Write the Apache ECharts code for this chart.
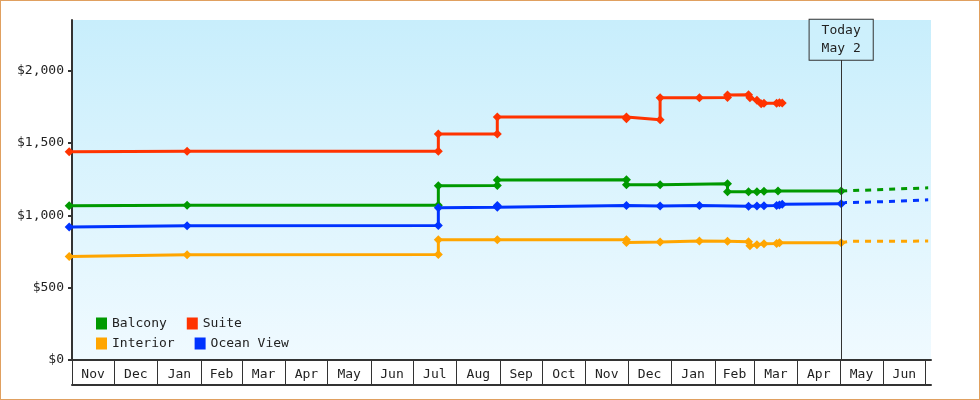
<!DOCTYPE html>
<html><head><meta charset="utf-8">
<script src="https://cdn.jsdelivr.net/npm/echarts@6/dist/echarts.min.js"></script>
<style>html,body{margin:0;padding:0;background:#fff}#c{width:978px;height:398px;border:1px solid #e0a060}</style>
</head><body><div id="c"></div>
<script>
const monthNames = ['Nov','Dec','Jan','Feb','Mar','Apr','May','Jun','Jul','Aug','Sep','Oct','Nov','Dec','Jan','Feb','Mar','Apr','May','Jun'];
const monthStarts = ['2023-11-01','2023-12-01','2024-01-01','2024-02-01','2024-03-01','2024-04-01','2024-05-01','2024-06-01','2024-07-01','2024-08-01','2024-09-01','2024-10-01','2024-11-01','2024-12-01','2025-01-01','2025-02-01','2025-03-01','2025-04-01','2025-05-01','2025-06-01','2025-07-01'];
const yTicks = [0,500,1000,1500,2000];
const today = '2025-05-02';
const projEnd = '2025-07-03';

const suite = [['2023-10-30',1440],['2024-01-22',1442],['2024-07-19',1442],['2024-07-19',1562],['2024-08-30',1562],['2024-08-30',1680],['2024-11-30',1680],['2024-11-30',1668],['2024-12-24',1660],['2024-12-24',1812],['2025-01-21',1812],['2025-02-10',1815],['2025-02-10',1832],['2025-02-25',1834],['2025-02-26',1812],['2025-03-03',1795],['2025-03-06',1772],['2025-03-08',1775],['2025-03-17',1775],['2025-03-19',1778],['2025-03-21',1776]];
const balcony = [['2023-10-30',1066],['2024-01-22',1070],['2024-07-19',1070],['2024-07-19',1204],['2024-08-30',1206],['2024-08-30',1244],['2024-11-30',1245],['2024-11-30',1211],['2024-12-24',1212],['2025-02-10',1218],['2025-02-10',1163],['2025-02-25',1163],['2025-03-03',1163],['2025-03-08',1166],['2025-03-18',1168],['2025-05-02',1168]];
const balconyProj = [[today,1168],[projEnd,1190]];
const ocean = [['2023-10-30',920],['2024-01-22',928],['2024-07-19',930],['2024-07-19',1052],['2024-08-30',1055],['2024-08-30',1068],['2024-11-30',1068],['2024-12-24',1065],['2025-01-21',1068],['2025-02-25',1062],['2025-03-03',1064],['2025-03-08',1066],['2025-03-17',1068],['2025-03-19',1072],['2025-03-21',1076],['2025-05-02',1080]];
const oceanProj = [[today,1080],['2025-05-05',1088],['2025-05-25',1092],[projEnd,1107]];
const interior = [['2023-10-30',716],['2024-01-22',728],['2024-07-19',730],['2024-07-19',832],['2024-08-30',832],['2024-11-30',832],['2024-11-30',812],['2024-12-24',815],['2025-01-21',822],['2025-02-10',820],['2025-02-25',818],['2025-02-26',790],['2025-03-03',797],['2025-03-08',803],['2025-03-17',806],['2025-03-19',810],['2025-05-02',810]];
const interiorProj = [[today,810],['2025-05-08',820],[projEnd,822]];

const base = Date.UTC(2023,10,1);
function d(s){const p=s.split('-').map(Number);return (Date.UTC(p[0],p[1]-1,p[2])-base)/864e5;}
const conv = a => a.map(p=>[d(p[0]),p[1]]);
const tickVals = monthStarts.map(d);
const labelVals = tickVals.slice(0,-1).map((v,i)=>(v+tickVals[i+1])/2);
const font = 'DejaVu Sans Mono';
const C = {Balcony:'#009900',Suite:'#ff3300',Interior:'#ffa500','Ocean View':'#0033ff'};

function line(name,data,extra){
  return Object.assign({name,type:'line',data:conv(data),symbol:'diamond',symbolSize:9,clip:false,
    itemStyle:{color:C[name]},lineStyle:{color:C[name],width:3}},extra||{});
}
function proj(name,data){
  return {name:name+' proj',type:'line',data:conv(data),symbol:'none',
    lineStyle:{color:C[name],width:3,type:[6,6]},itemStyle:{color:C[name]}};
}
const chart = echarts.init(document.getElementById('c'));
chart.setOption({
  animation:false,
  textStyle:{fontFamily:font},
  grid:{left:71,right:48,top:19,bottom:39,show:true,borderWidth:0,
    backgroundColor:{type:'linear',x:0,y:0,x2:0,y2:1,colorStops:[{offset:0,color:'#c8eefc'},{offset:1,color:'#f0faff'}]}},
  legend:[
    {left:90,top:311,itemWidth:11,itemHeight:12,itemGap:20,icon:'rect',data:['Balcony','Suite'],textStyle:{fontFamily:font,fontSize:13,color:'#222'}},
    {left:90,top:331,itemWidth:11,itemHeight:12,itemGap:20,icon:'rect',data:['Interior','Ocean View'],textStyle:{fontFamily:font,fontSize:13,color:'#222'}}
  ],
  xAxis:[{type:'value',min:0,max:612,
    axisLine:{lineStyle:{color:'#333',width:2}},splitLine:{show:false},
    axisTick:{customValues:tickVals,length:25,lineStyle:{color:'#333'}},
    axisLabel:{customValues:labelVals,margin:8,fontSize:13,color:'#222',fontFamily:font,
      formatter:v=>{const i=labelVals.findIndex(x=>Math.abs(x-v)<1);return i>=0?monthNames[i]:'';}}},
    {type:'value',min:0,max:612,position:'bottom',offset:25,axisLine:{lineStyle:{color:'#333',width:2}},
      axisTick:{show:false},axisLabel:{show:false},splitLine:{show:false}}],
  yAxis:{type:'value',min:0,max:2350,
    axisLine:{show:true,lineStyle:{color:'#333',width:2}},splitLine:{show:false},
    axisTick:{show:true,customValues:yTicks,length:4,lineStyle:{color:'#333',width:2}},
    axisLabel:{customValues:yTicks,fontSize:13,color:'#222',fontFamily:font,margin:8,
      formatter:v=>'$'+v.toLocaleString('en-US')}},
  series:[
    line('Balcony',balcony,{markLine:{silent:true,symbol:'none',
      lineStyle:{color:'#333',width:1,type:'solid'},
      label:{position:'end',formatter:'Today\nMay 2',fontFamily:font,fontSize:13,color:'#222',lineHeight:18,
        backgroundColor:'#cdf0fc',borderColor:'#333',borderWidth:1,padding:[2,12,2,12],distance:0},
      data:[[{coord:[d(today),0]},{coord:[d(today),2076]}]]}}),
    line('Suite',suite),
    line('Interior',interior),
    line('Ocean View',ocean),
    proj('Balcony',balconyProj),proj('Interior',interiorProj),proj('Ocean View',oceanProj)
  ]
});
</script></body></html>
